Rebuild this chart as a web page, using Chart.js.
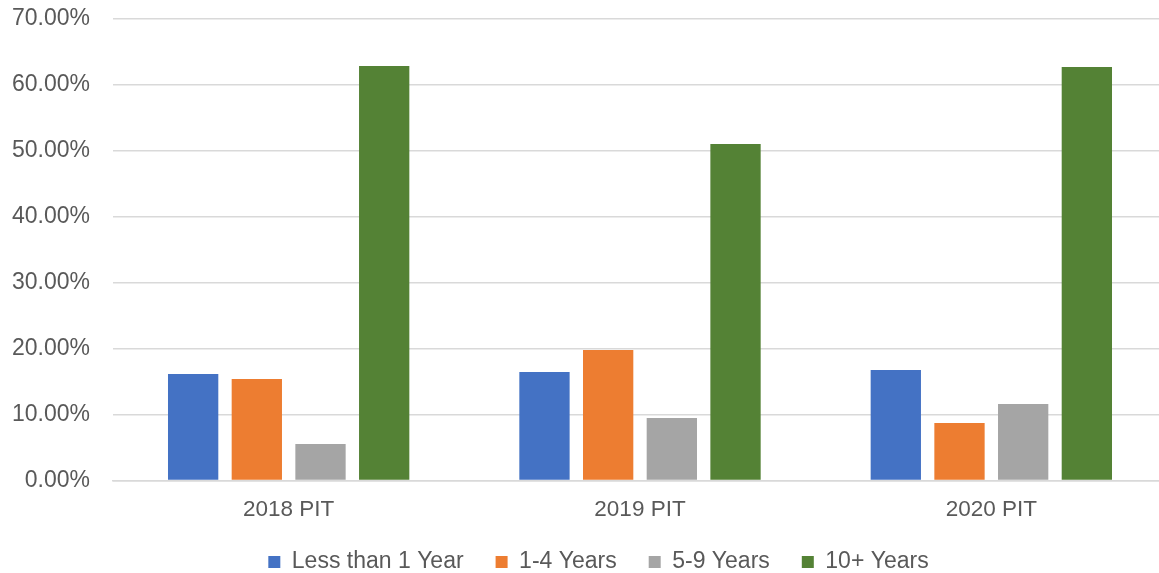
<!DOCTYPE html>
<html>
<head>
<meta charset="utf-8">
<script src="https://cdn.jsdelivr.net/npm/chart.js@4/dist/chart.umd.min.js"></script>
<style>
  html, body { margin: 0; padding: 0; background: #ffffff; overflow: hidden; }
  #wrap { width: 1167px; height: 573px; }
</style>
</head>
<body>
<div id="wrap"><canvas id="c" width="1167" height="573"></canvas></div>
<script>
// Point-in-time counts by length of homelessness, shares in percent
const categories = ['2018 PIT', '2019 PIT', '2020 PIT'];
const seriesNames = ['Less than 1 Year', '1-4 Years', '5-9 Years', '10+ Years'];
const lessThan1Year = [16.15, 16.46, 16.76];
const oneToFourYears = [15.40, 19.79, 8.72];
const fiveToNineYears = [5.54, 9.48, 11.60];
const tenPlusYears = [62.87, 51.04, 62.72];
const yTicks = [0, 10, 20, 30, 40, 50, 60, 70];

const colors = ['#4472C4', '#ED7D31', '#A5A5A5', '#548235'];
const values = [lessThan1Year, oneToFourYears, fiveToNineYears, tenPlusYears];

const FAMILY = '"Liberation Sans", Arial, sans-serif';
const TEXT = '#595959';
const GRID = '#d9d9d9';

// nudges the centred legend row a little to the right
const legendShift = {
  id: 'legendShift',
  afterLayout(chart) {
    const lg = chart.legend;
    if (lg) { lg.left += 15; lg.right += 15; }
  }
};

new Chart(document.getElementById('c'), {
  type: 'bar',
  data: {
    labels: categories,
    datasets: seriesNames.map((name, i) => ({
      label: name,
      data: values[i],
      backgroundColor: colors[i],
      borderWidth: 0,
      categoryPercentage: 0.725,
      barPercentage: 0.79
    }))
  },
  options: {
    responsive: false,
    animation: false,
    devicePixelRatio: 1,
    layout: { padding: { top: 19, left: 0, right: 0, bottom: 0 } },
    scales: {
      x: {
        grid: { display: false, drawTicks: false },
        border: { display: true, color: GRID, width: 1.5 },
        ticks: { color: TEXT, font: { family: FAMILY, size: 22.5 }, padding: 16 },
        afterFit(s) { s.height = 38; }
      },
      y: {
        min: 0,
        max: 70,
        afterBuildTicks(s) { s.ticks = yTicks.map(v => ({ value: v })); },
        // invisible tick marks keep the labels clear of the plot
        grid: { color: GRID, lineWidth: 1.5, drawTicks: true, tickLength: 23, tickColor: 'rgba(0,0,0,0)' },
        border: { display: false },
        ticks: {
          color: TEXT,
          font: { family: FAMILY, size: 23 },
          padding: 0,
          callback: v => Number(v).toFixed(2) + '%'
        },
        afterFit(s) { s.width = 113; }
      }
    },
    plugins: {
      legend: {
        position: 'bottom',
        maxHeight: 54.5,
        labels: {
          color: TEXT,
          font: { family: FAMILY, size: 23 },
          boxWidth: 12,
          boxHeight: 12,
          padding: 32
        }
      },
      tooltip: { enabled: false }
    }
  },
  plugins: [legendShift]
});
</script>
</body>
</html>
